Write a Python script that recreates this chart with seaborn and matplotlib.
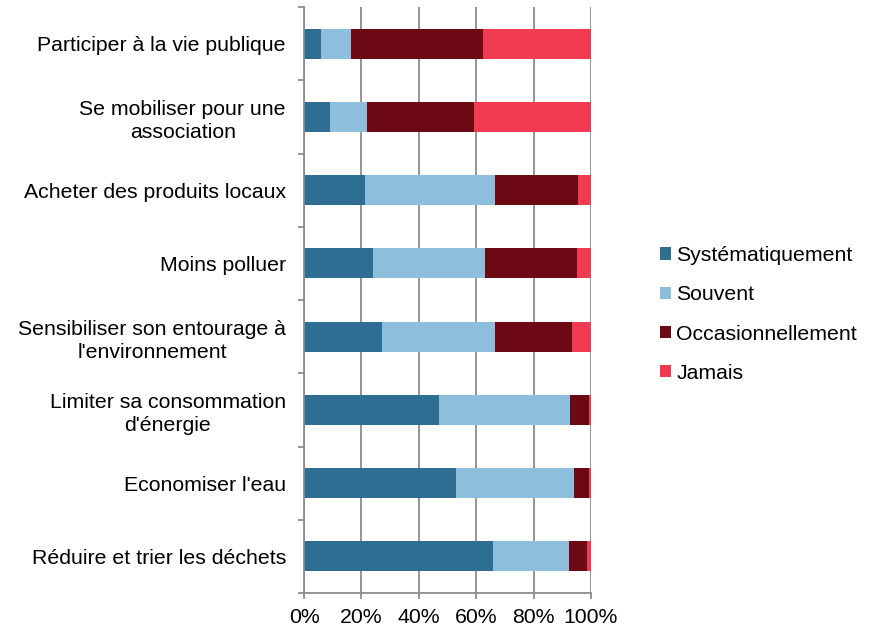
import numpy as np
import pandas as pd
import seaborn as sns
import matplotlib.pyplot as plt
from matplotlib.patches import Patch
from matplotlib.ticker import FixedLocator, PercentFormatter

# Data
categories = ["Participer à la vie publique",
              "Se mobiliser pour une\nassociation",
              "Acheter des produits locaux",
              "Moins polluer",
              "Sensibiliser son entourage à\nl'environnement",
              "Limiter sa consommation\nd'énergie",
              "Economiser l'eau",
              "Réduire et trier les déchets"]
systematiquement = [5.8, 9.2, 21.1, 23.9, 27.1, 47.0, 52.9, 65.7]
souvent = [10.7, 12.8, 45.4, 39.1, 39.3, 45.8, 41.3, 26.5]
occasionnellement = [46.0, 37.2, 29.1, 32.0, 27.1, 6.4, 5.0, 6.3]
jamais = [37.5, 40.8, 4.4, 5.0, 6.5, 0.8, 0.8, 1.5]

series_names = ["Systématiquement", "Souvent", "Occasionnellement", "Jamais"]
colors = ["#2E6E93", "#8DBFDC", "#6D0815", "#F23A52"]

df = pd.DataFrame({"categorie": categories,
                   "Systématiquement": systematiquement,
                   "Souvent": souvent,
                   "Occasionnellement": occasionnellement,
                   "Jamais": jamais})
cum = df[series_names].cumsum(axis=1)

sns.set_style("white")
plt.rcParams['font.family'] = ['Liberation Sans', 'DejaVu Sans']
plt.rcParams['text.color'] = 'black'
plt.rcParams['xtick.labelcolor'] = 'black'
plt.rcParams['ytick.labelcolor'] = 'black'

fs = 15.3

fig = plt.figure(figsize=(8.75, 6.29), dpi=100)
ax = fig.add_axes([304/875, 1 - 593/629, (591 - 304)/875, (593 - 7)/629])

# stacked bars: draw the cumulative totals from the longest to the shortest
for name, color in reversed(list(zip(series_names, colors))):
    sns.barplot(x=cum[name], y=df["categorie"], orient="h", color=color,
                width=0.41, linewidth=0, saturation=1, ax=ax)

ax.set_xlim(0, 100)
ax.set_ylim(7.5, -0.5)
ax.set_xticks([0, 20, 40, 60, 80, 100])
ax.xaxis.set_major_formatter(PercentFormatter(decimals=0))
ax.set_xlabel("")
ax.set_ylabel("")

ax.grid(axis="x", color="#8C8C8C", linewidth=1.3)
ax.grid(axis="y", visible=False)
ax.set_axisbelow(True)
for side in ["top", "right"]:
    ax.spines[side].set_visible(False)
for side in ["left", "bottom"]:
    ax.spines[side].set_color("#8C8C8C")
    ax.spines[side].set_linewidth(1.3)

ax.yaxis.set_minor_locator(FixedLocator(np.arange(-0.5, 8, 1)))
ax.tick_params(axis="y", which="major", length=0, pad=13, labelsize=fs)
ax.tick_params(axis="y", which="minor", left=True, length=4, width=1.3, color="#8C8C8C")
ax.tick_params(axis="x", bottom=True, length=4, width=1.3, color="#8C8C8C",
               pad=7, labelsize=fs)
for t in ax.get_yticklabels():
    t.set_multialignment("center")
    t.set_linespacing(1.3)

handles = [Patch(facecolor=c, edgecolor="none") for c in colors]
fig.legend(handles, series_names, loc="center left",
           bbox_to_anchor=(660/875, 1 - 314.5/629), frameon=False, fontsize=fs,
           handlelength=0.52, handleheight=0.52, handletextpad=0.25,
           labelspacing=0.95, borderpad=0, borderaxespad=0)

plt.savefig("out.png", dpi=100)
